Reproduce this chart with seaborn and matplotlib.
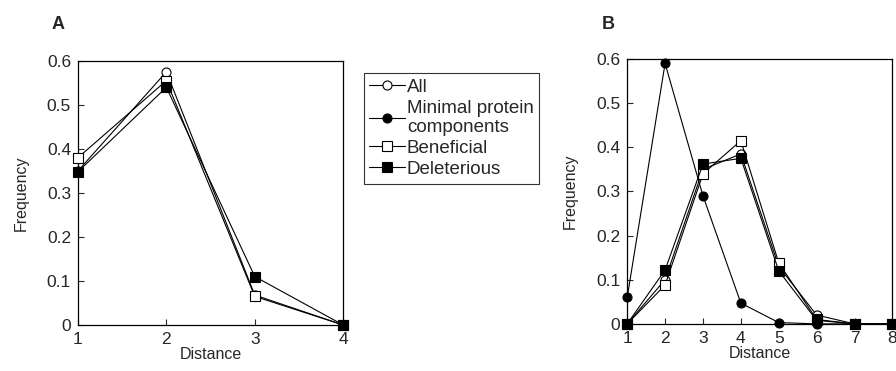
import pandas as pd
import matplotlib.pyplot as plt
import seaborn as sns

# datos
dist_a = [1, 2, 3, 4]
all_a = [0.35, 0.575, 0.068, 0.0]
benef_a = [0.38, 0.555, 0.065, 0.0]
delet_a = [0.348, 0.54, 0.11, 0.0]

dist_b = [1, 2, 3, 4, 5, 6, 7, 8]
all_b = [0.0, 0.10, 0.35, 0.385, 0.13, 0.02, 0.0, 0.0]
minimal_b = [0.06, 0.59, 0.29, 0.047, 0.003, 0.0, 0.0, 0.0]
benef_b = [0.0, 0.088, 0.34, 0.415, 0.138, 0.01, 0.0, 0.0]
delet_b = [0.0, 0.122, 0.362, 0.375, 0.12, 0.008, 0.0, 0.0]

y_ticks = [0, 0.1, 0.2, 0.3, 0.4, 0.5, 0.6]
y_labels = ['0', '0.1', '0.2', '0.3', '0.4', '0.5', '0.6']

sns.set_style('white')
plt.rcParams['font.family'] = ['Liberation Sans', 'DejaVu Sans']

fig = plt.figure(figsize=(8.96, 3.71), dpi=100)
ax_a = fig.add_axes([0.087, 0.124, 0.296, 0.712])
ax_b = fig.add_axes([0.700, 0.127, 0.296, 0.714])

estilos = {
    'All': dict(marker='o', mfc='white', ms=6.5),
    'Minimal protein\ncomponents': dict(marker='o', mfc='black', ms=6.5),
    'Beneficial': dict(marker='s', mfc='white', ms=6.5),
    'Deleterious': dict(marker='s', mfc='black', ms=7),
}

def dibujar(ax, x, series):
    for nombre, vals in series:
        df = pd.DataFrame({'Distance': x, 'Frequency': vals})
        sns.lineplot(data=df, x='Distance', y='Frequency', ax=ax, color='black',
                     lw=0.8, mec='black', mew=0.8, label=nombre, clip_on=False,
                     zorder=3, **estilos[nombre])
    ax.set_ylim(0, 0.6)
    ax.set_yticks(y_ticks)
    ax.set_yticklabels(y_labels)
    ax.set_xticks(x)
    ax.set_xlim(x[0], x[-1])
    ax.tick_params(direction='in', length=4, width=0.8, pad=5, labelsize=12.5,
                   left=True, bottom=True)
    for s in ax.spines.values():
        s.set_color('black')
        s.set_linewidth(0.9)
    ax.set_xlabel('Distance', fontsize=11.5, labelpad=0)
    ax.set_ylabel('Frequency', fontsize=11.5, labelpad=13)
    ax.get_legend().remove()

dibujar(ax_a, dist_a, [('All', all_a), ('Beneficial', benef_a), ('Deleterious', delet_a)])
dibujar(ax_b, dist_b, [('All', all_b), ('Minimal protein\ncomponents', minimal_b),
                       ('Beneficial', benef_b), ('Deleterious', delet_b)])

handles, labels = ax_b.get_legend_handles_labels()
leg = fig.legend(handles, labels, loc='upper left', bbox_to_anchor=(0.406, 0.803),
                 frameon=True, fancybox=False, edgecolor='black', fontsize=13.5,
                 handlelength=1.9, handletextpad=0.1, borderpad=0.3,
                 labelspacing=0.2, borderaxespad=0)
leg.get_frame().set_linewidth(0.8)

fig.text(0.058, 0.958, 'A', fontsize=13, fontweight='bold', va='top')
fig.text(0.672, 0.958, 'B', fontsize=13, fontweight='bold', va='top')

fig.savefig('out.png', dpi=100)
